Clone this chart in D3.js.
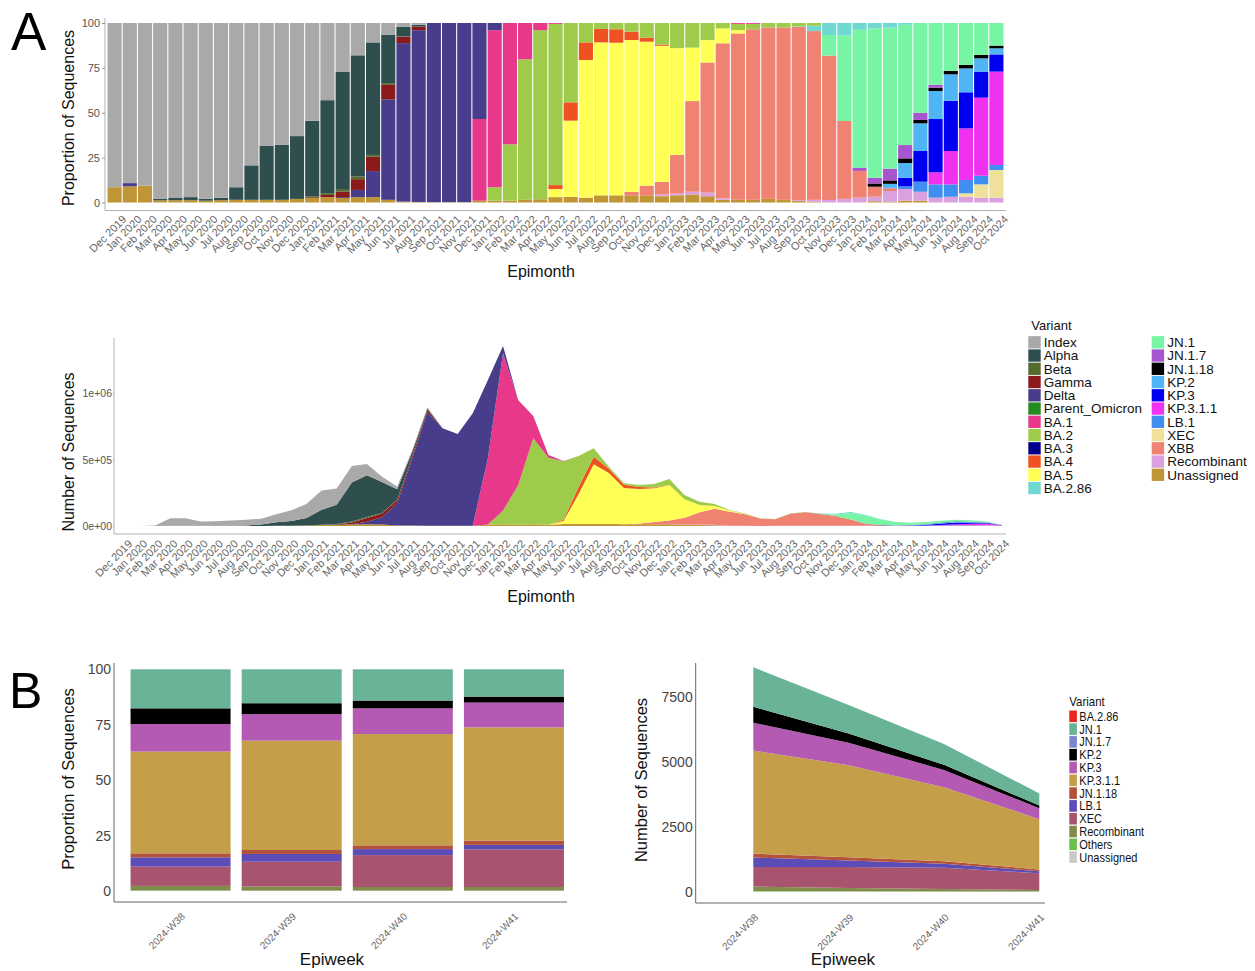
<!DOCTYPE html>
<html>
<head>
<meta charset="utf-8">
<script src="https://cdn.jsdelivr.net/npm/d3@7"></script>
<style>
  body { margin: 0; background: #fff; }
  svg text { font-family: "Liberation Sans", Arial, Helvetica, sans-serif; }
</style>
</head>
<body>
<svg id="fig" width="1255" height="971"></svg>
<script>
"use strict";

// ---------- panel A data ----------
const months = [
  "Dec 2019",
  "Jan 2020", "Feb 2020", "Mar 2020", "Apr 2020", "May 2020", "Jun 2020",
  "Jul 2020", "Aug 2020", "Sep 2020", "Oct 2020", "Nov 2020", "Dec 2020",
  "Jan 2021", "Feb 2021", "Mar 2021", "Apr 2021", "May 2021", "Jun 2021",
  "Jul 2021", "Aug 2021", "Sep 2021", "Oct 2021", "Nov 2021", "Dec 2021",
  "Jan 2022", "Feb 2022", "Mar 2022", "Apr 2022", "May 2022", "Jun 2022",
  "Jul 2022", "Aug 2022", "Sep 2022", "Oct 2022", "Nov 2022", "Dec 2022",
  "Jan 2023", "Feb 2023", "Mar 2023", "Apr 2023", "May 2023", "Jun 2023",
  "Jul 2023", "Aug 2023", "Sep 2023", "Oct 2023", "Nov 2023", "Dec 2023",
  "Jan 2024", "Feb 2024", "Mar 2024", "Apr 2024", "May 2024", "Jun 2024",
  "Jul 2024", "Aug 2024", "Sep 2024", "Oct 2024"
];

const variants = [
  "Index", "Alpha", "Beta", "Gamma", "Delta", "Parent_Omicron", "BA.1", "BA.2",
  "BA.3", "BA.4", "BA.5", "BA.2.86", "JN.1", "JN.1.7", "JN.1.18", "KP.2", "KP.3",
  "KP.3.1.1", "LB.1", "XEC", "XBB", "Recombinant", "Unassigned"
];
const variantColors = [
  "#a9a9a9", "#2f4f4f", "#556b2f", "#8b1a1a", "#483d8b", "#228b22", "#e8388a", "#9fcb4a",
  "#00008b", "#ef5222", "#ffff55", "#6fd8d0", "#78f5a4", "#a855d0", "#000000", "#4fb5f5", "#0000f0",
  "#f032f0", "#3f8ef0", "#efe19a", "#f08272", "#daa0e0", "#c09535"
];

// proportion of sequences (%) per month, rows of 10 months
const pIndex = [
  91.5, 89.2, 90.6, 98, 97.5, 97, 98, 97.4, 91.5, 79.3,
  68.3, 67.8, 63, 54.5, 43, 27.3, 18, 10.8, 6.5, 2,
  1, 0, 0, 0, 0, 0, 0, 0, 0, 0,
  0, 0, 0, 0, 0, 0, 0, 0, 0, 0,
  0, 0, 0, 0, 0, 0, 0, 0, 0, 0,
  0, 0, 0, 0, 0, 0, 0, 0, 0
];
const pAlpha = [
  0, 0, 0, 0.8, 1.2, 1.7, 1, 1.3, 7, 19.2,
  30.2, 30.7, 35, 42, 51.8, 65.2, 67.5, 62.7, 27, 5.5,
  1, 0, 0, 0, 0, 0, 0, 0, 0, 0,
  0, 0, 0, 0, 0, 0, 0, 0, 0, 0,
  0, 0, 0, 0, 0, 0, 0, 0, 0, 0,
  0, 0, 0, 0, 0, 0, 0, 0, 0
];
const pBeta = [
  0, 0, 0, 0, 0, 0, 0, 0, 0, 0,
  0, 0, 0, 0.6, 1, 1.5, 1.5, 1, 1, 0.2,
  0, 0, 0, 0, 0, 0, 0, 0, 0, 0,
  0, 0, 0, 0, 0, 0, 0, 0, 0, 0,
  0, 0, 0, 0, 0, 0, 0, 0, 0, 0,
  0, 0, 0, 0, 0, 0, 0, 0, 0
];
const pGamma = [
  0, 0, 0, 0, 0, 0, 0, 0, 0, 0,
  0, 0, 0, 0.4, 1.2, 3, 6, 8, 8, 3.5,
  2, 0, 0, 0, 0, 0, 0, 0, 0, 0,
  0, 0, 0, 0, 0, 0, 0, 0, 0, 0,
  0, 0, 0, 0, 0, 0, 0, 0, 0, 0,
  0, 0, 0, 0, 0, 0, 0, 0, 0
];
const pDelta = [
  0, 1.8, 0, 0, 0, 0, 0, 0, 0, 0,
  0, 0, 0, 0, 0, 0.5, 4, 14.5, 56, 88.3,
  95.7, 99.8, 99.8, 99.8, 53.5, 4, 0, 0, 0, 0,
  0, 0, 0, 0, 0, 0, 0, 0, 0, 0,
  0, 0, 0, 0, 0, 0, 0, 0, 0, 0,
  0, 0, 0, 0, 0, 0, 0, 0, 0
];
const pParentOmicron = [
  0, 0, 0, 0, 0, 0, 0, 0, 0, 0,
  0, 0, 0, 0, 0, 0, 0, 0, 0, 0,
  0, 0, 0, 0, 0, 0, 0, 0, 0, 0,
  0, 0, 0, 0, 0, 0, 0, 0, 0, 0,
  0, 0, 0, 0, 0, 0, 0, 0, 0, 0,
  0, 0, 0, 0, 0, 0, 0, 0, 0
];
const pBA1 = [
  0, 0, 0, 0, 0, 0, 0, 0, 0, 0,
  0, 0, 0, 0, 0, 0, 0, 0, 0, 0,
  0, 0, 0, 0, 45.5, 87.5, 67.6, 20.2, 4, 0.5,
  0, 0, 0, 0, 0, 0, 0, 0, 0, 0,
  0, 0.5, 0.5, 0, 0, 0, 0, 0, 0, 0,
  0, 0, 0, 0, 0, 0, 0, 0, 0
];
const pBA2 = [
  0, 0, 0, 0, 0, 0, 0, 0, 0, 0,
  0, 0, 0, 0, 0, 0, 0, 0, 0, 0,
  0, 0, 0, 0, 0, 7.5, 31.4, 78.3, 94.2, 89.8,
  44.2, 10.8, 3.3, 3.5, 4.8, 8.2, 12, 14, 13.7, 9.5,
  3, 3.5, 3, 2.5, 2.5, 1.9, 1.5, 0, 0, 0,
  0, 0, 0, 0, 0, 0, 0, 0, 0
];
const pBA3 = [
  0, 0, 0, 0, 0, 0, 0, 0, 0, 0,
  0, 0, 0, 0, 0, 0, 0, 0, 0, 0,
  0, 0, 0, 0, 0, 0, 0, 0, 0, 0,
  0, 0, 0, 0, 0, 0, 0, 0, 0, 0,
  0, 0, 0, 0, 0, 0, 0, 0, 0, 0,
  0, 0, 0, 0, 0, 0, 0, 0, 0
];
const pBA4 = [
  0, 0, 0, 0, 0, 0, 0, 0, 0, 0,
  0, 0, 0, 0, 0, 0, 0, 0, 0, 0,
  0, 0, 0, 0, 0, 0, 0, 0, 0, 2.2,
  10.2, 9.8, 7.5, 7.5, 4.7, 2.2, 0.7, 0, 0, 0,
  0, 0, 0, 0, 0, 0, 0, 0, 0, 0,
  0, 0, 0, 0, 0, 0, 0, 0, 0
];
const pBA5 = [
  0, 0, 0, 0, 0, 0, 0, 0, 0, 0,
  0, 0, 0, 0, 0, 0, 0, 0, 0, 0,
  0, 0, 0, 0, 0, 0, 0, 0, 0, 4.5,
  42.4, 76.7, 85.2, 85, 84.5, 80.2, 75.8, 59.5, 29.8, 12.5,
  8.3, 1.8, 0, 0, 0, 0, 0, 0, 0, 0,
  0, 0, 0, 0, 0, 0, 0, 0, 0
];
const pBA286 = [
  0, 0, 0, 0, 0, 0, 0, 0, 0, 0,
  0, 0, 0, 0, 0, 0, 0, 0, 0, 0,
  0, 0, 0, 0, 0, 0, 0, 0, 0, 0,
  0, 0, 0, 0, 0, 0, 0, 0, 0, 0,
  0, 0, 0, 0, 0, 0.3, 3, 6.7, 7, 3.8,
  3, 2.6, 1, 0, 0, 0, 0, 0, 0
];
const pJN1 = [
  0, 0, 0, 0, 0, 0, 0, 0, 0, 0,
  0, 0, 0, 0, 0, 0, 0, 0, 0, 0,
  0, 0, 0, 0, 0, 0, 0, 0, 0, 0,
  0, 0, 0, 0, 0, 0, 0, 0, 0, 0,
  0, 0, 0, 0, 0, 0, 0, 11.5, 47.6, 76.8,
  83.2, 78.6, 67, 50, 34.5, 26.7, 23.4, 17.8, 12.6
];
const pJN17 = [
  0, 0, 0, 0, 0, 0, 0, 0, 0, 0,
  0, 0, 0, 0, 0, 0, 0, 0, 0, 0,
  0, 0, 0, 0, 0, 0, 0, 0, 0, 0,
  0, 0, 0, 0, 0, 0, 0, 0, 0, 0,
  0, 0, 0, 0, 0, 0, 0, 0, 0, 1.8,
  3.2, 6.5, 7.4, 4, 1.5, 0, 0, 0, 0
];
const pJN118 = [
  0, 0, 0, 0, 0, 0, 0, 0, 0, 0,
  0, 0, 0, 0, 0, 0, 0, 0, 0, 0,
  0, 0, 0, 0, 0, 0, 0, 0, 0, 0,
  0, 0, 0, 0, 0, 0, 0, 0, 0, 0,
  0, 0, 0, 0, 0, 0, 0, 0, 0, 0,
  1.8, 1.9, 2.6, 1.9, 1.9, 1.9, 1.9, 1.9, 1.5
];
const pKP2 = [
  0, 0, 0, 0, 0, 0, 0, 0, 0, 0,
  0, 0, 0, 0, 0, 0, 0, 0, 0, 0,
  0, 0, 0, 0, 0, 0, 0, 0, 0, 0,
  0, 0, 0, 0, 0, 0, 0, 0, 0, 0,
  0, 0, 0, 0, 0, 0, 0, 0, 0, 0,
  0, 2, 8.2, 15.4, 15.6, 14.7, 13.3, 7.4, 3.4
];
const pKP3 = [
  0, 0, 0, 0, 0, 0, 0, 0, 0, 0,
  0, 0, 0, 0, 0, 0, 0, 0, 0, 0,
  0, 0, 0, 0, 0, 0, 0, 0, 0, 0,
  0, 0, 0, 0, 0, 0, 0, 0, 0, 0,
  0, 0, 0, 0, 0, 0, 0, 0, 0, 0,
  0, 0, 4.8, 17.1, 29.7, 28, 20.1, 14.5, 9.6
];
const pKP311 = [
  0, 0, 0, 0, 0, 0, 0, 0, 0, 0,
  0, 0, 0, 0, 0, 0, 0, 0, 0, 0,
  0, 0, 0, 0, 0, 0, 0, 0, 0, 0,
  0, 0, 0, 0, 0, 0, 0, 0, 0, 0,
  0, 0, 0, 0, 0, 0, 0, 0, 0, 0,
  0, 0, 0, 0, 6.7, 18.6, 28.8, 43.5, 52
];
const pLB1 = [
  0, 0, 0, 0, 0, 0, 0, 0, 0, 0,
  0, 0, 0, 0, 0, 0, 0, 0, 0, 0,
  0, 0, 0, 0, 0, 0, 0, 0, 0, 0,
  0, 0, 0, 0, 0, 0, 0, 0, 0, 0,
  0, 0, 0, 0, 0, 0, 0, 0, 0, 0,
  0, 0.5, 1.5, 5.6, 7.4, 6.9, 7.4, 4.8, 2.8
];
const pXEC = [
  0, 0, 0, 0, 0, 0, 0, 0, 0, 0,
  0, 0, 0, 0, 0, 0, 0, 0, 0, 0,
  0, 0, 0, 0, 0, 0, 0, 0, 0, 0,
  0, 0, 0, 0, 0, 0, 0, 0, 0, 0,
  0, 0, 0, 0, 0, 0, 0, 0, 0, 0,
  0, 0, 0, 0, 0, 0, 1.9, 7.4, 15.4
];
const pXBB = [
  0, 0, 0, 0, 0, 0, 0, 0, 0, 0,
  0, 0, 0, 0, 0, 0, 0, 0, 0, 0,
  0, 0, 0, 0, 0, 0, 0, 0, 0, 0,
  0, 0, 0, 0, 2, 5.4, 7, 21.5, 50.5, 72.5,
  86.4, 92.7, 95, 95.5, 96, 96.5, 94, 80.4, 43.4, 14.9,
  5.6, 1.5, 0, 0, 0, 0, 0, 0, 0
];
const pRecombinant = [
  0, 0, 0, 0, 0, 0, 0, 0, 0, 0,
  0, 0, 0, 0, 0, 0, 0, 0, 0, 0,
  0, 0, 0, 0, 0, 0, 0, 0, 0, 0,
  0, 0, 0, 0, 0, 0, 1, 1, 1.5, 2,
  0.8, 0, 0, 0, 0, 0.5, 1, 1.4, 2, 2.7,
  2.5, 6, 6.5, 5, 2.7, 3.2, 3.2, 2.7, 2.7
];
const pUnassigned = [
  8.5, 9, 9.4, 1.2, 1.3, 1.3, 1, 1.3, 1.5, 1.5,
  1.5, 1.5, 2, 2.5, 3, 2.5, 3, 3, 1.5, 0.5,
  0.3, 0.2, 0.2, 0.2, 1, 1, 1, 1.5, 1.8, 3,
  3.2, 2.7, 4, 4, 4, 4, 3.5, 4, 4.5, 3.5,
  1.5, 1.5, 1.5, 2, 1.5, 0.8, 0.5, 0, 0, 0,
  0.7, 0.4, 1, 1, 0, 0, 0, 0, 0
];

// total number of sequences per month
const monthTotals = [
  200, 600, 3000, 58000, 58000, 33000, 35000, 42000, 47000, 55000,
  88000, 118000, 165000, 268000, 282000, 452000, 467000, 372000, 297000, 573000,
  895000, 736000, 694000, 849000, 1100000, 1357000, 950000, 829000, 535000, 490000,
  528000, 585000, 447000, 322000, 309000, 317000, 354000, 234000, 183000, 166000,
  121000, 95000, 58000, 53000, 95000, 106000, 95000, 93000, 106000, 83000,
  50000, 30000, 25000, 30000, 40000, 48000, 43000, 33000, 8000
];

const propSeries = [
  pIndex, pAlpha, pBeta, pGamma, pDelta, pParentOmicron, pBA1, pBA2,
  pBA3, pBA4, pBA5, pBA286, pJN1, pJN17, pJN118, pKP2, pKP3,
  pKP311, pLB1, pXEC, pXBB, pRecombinant, pUnassigned
];
const countTicks = [0, 5e5, 1e6];
const countTickLabels = ["0e+00", "5e+05", "1e+06"];

// ---------- panel B data ----------
const weeks = ["2024-W38", "2024-W39", "2024-W40", "2024-W41"];
const weekTotals = [8630, 7180, 5680, 3780];
const variantsB = [
  "BA.2.86", "JN.1", "JN.1.7", "KP.2", "KP.3", "KP.3.1.1",
  "JN.1.18", "LB.1", "XEC", "Recombinant", "Others", "Unassigned"
];
const colorsB = [
  "#e8261e", "#69b496", "#7b86d0", "#000000", "#b45ab2", "#c49e48",
  "#b4533c", "#5c4cb8", "#a8546f", "#808d4a", "#6bbf4b", "#c9c9c9"
];
const bBA286 = [0, 0, 0, 0];
const bJN1 = [17.6, 15.3, 14.1, 12.3];
const bJN17 = [0, 0, 0, 0];
const bKP2 = [7.1, 4.9, 3.5, 2.7];
const bKP3 = [12.4, 12, 11.6, 11.2];
const bKP311 = [45.9, 49.3, 50.2, 51.1];
const bJN118 = [1.8, 1.8, 1.7, 1.9];
const bLB1 = [4.2, 3.5, 2.7, 2];
const bXEC = [8.7, 11.2, 14.4, 17];
const bRecombinant = [2, 1.8, 1.6, 1.6];
const bOthers = [0.2, 0.1, 0.1, 0.1];
const bUnassigned = [0.1, 0.1, 0.1, 0.1];
const propSeriesB = [bBA286, bJN1, bJN17, bKP2, bKP3, bKP311, bJN118, bLB1, bXEC, bRecombinant, bOthers, bUnassigned];

// ---------- helpers ----------
const FONT = "'Liberation Sans', Arial, Helvetica, sans-serif";
const svg = d3.select("#fig");

function styleAxis(g, size, color) {
  g.attr("font-family", FONT).attr("font-size", size);
  g.select(".domain").remove();
  g.selectAll(".tick line").attr("stroke", "#999");
  g.selectAll(".tick text").attr("fill", color);
}

// rotate tick labels 45 degrees, top-right corner of the text at the tick
function rotateLabels(g, dx, dy) {
  g.selectAll(".tick text")
    .attr("text-anchor", "end")
    .attr("x", 0).attr("y", 0)
    .attr("dy", "0.71em")
    .attr("transform", `translate(${dx},${dy}) rotate(-45)`);
}

function axisLines(x0, x1, y0, y1, color) {
  svg.append("line").attr("x1", x0).attr("x2", x0).attr("y1", y0).attr("y2", y1)
    .attr("stroke", color).attr("stroke-width", 1);
  svg.append("line").attr("x1", x0).attr("x2", x1).attr("y1", y1).attr("y2", y1)
    .attr("stroke", color).attr("stroke-width", 1);
}

function title(x, y, text, size, rotate) {
  const t = svg.append("text")
    .attr("font-family", FONT).attr("font-size", size).attr("fill", "#111")
    .attr("text-anchor", "middle").text(text);
  if (rotate) t.attr("transform", `translate(${x},${y}) rotate(-90)`);
  else t.attr("x", x).attr("y", y);
}

// ---------- rows ----------
const monthRows = months.map((m, i) => {
  const sum = d3.sum(propSeries, s => s[i]);
  const row = { month: m };
  variants.forEach((v, k) => { row[v] = propSeries[k][i] / sum * 100; });
  return row;
});
const countRows = monthRows.map((r, i) => {
  const row = { month: r.month };
  variants.forEach(v => { row[v] = r[v] / 100 * monthTotals[i]; });
  return row;
});
const colorA = d3.scaleOrdinal().domain(variants).range(variantColors);
const stackKeysA = variants.slice().reverse();

// ---------- A1: proportion bars ----------
const xA1 = d3.scaleBand().domain(months).range([107, 1004]).paddingInner(0.07).paddingOuter(0.035);
const yA1 = d3.scaleLinear().domain([0, 100]).range([202.5, 23]);
const stackA1 = d3.stack().keys(stackKeysA)(monthRows);

svg.append("g").selectAll("g").data(stackA1).join("g")
  .attr("fill", d => colorA(d.key))
  .selectAll("rect").data(d => d).join("rect")
  .attr("x", d => xA1(d.data.month))
  .attr("width", xA1.bandwidth())
  .attr("y", d => yA1(d[1]))
  .attr("height", d => Math.max(0, yA1(d[0]) - yA1(d[1])));

axisLines(105, 1006, 18, 210.5, "#b0b0b0");
const gA1y = svg.append("g").attr("transform", "translate(105,0)")
  .call(d3.axisLeft(yA1).tickValues([0, 25, 50, 75, 100]).tickSize(3).tickPadding(2));
styleAxis(gA1y, 11, "#555");
const gA1x = svg.append("g").attr("transform", "translate(0,210.5)")
  .call(d3.axisBottom(xA1).tickSize(0));
styleAxis(gA1x, 11, "#666");
rotateLabels(gA1x, 7, 4);
title(74, 118, "Proportion of Sequences", 16, true);
title(541, 277, "Epimonth", 16, false);

// ---------- A2: stacked counts ----------
const xA2 = d3.scalePoint().domain(months).range([125, 1002]);
const yA2 = d3.scaleLinear().domain([0, 1e6]).range([526, 393.3]);
const stackA2 = d3.stack().keys(stackKeysA)(countRows);
const areaA2 = d3.area()
  .x(d => xA2(d.data.month))
  .y0(d => yA2(d[0]))
  .y1(d => yA2(d[1]));

svg.append("g").selectAll("path").data(stackA2).join("path")
  .attr("fill", d => colorA(d.key))
  .attr("d", areaA2);

axisLines(114, 1006, 338, 534, "#b0b0b0");
// the left edge of the tick labels is cut off in the source image
svg.append("clipPath").attr("id", "clipA2").append("rect")
  .attr("x", -31.5).attr("y", 330).attr("width", 40).attr("height", 220);
const gA2y = svg.append("g").attr("transform", "translate(114,0)")
  .attr("clip-path", "url(#clipA2)")
  .call(d3.axisLeft(yA2).tickValues(countTicks)
    .tickFormat((d, i) => countTickLabels[i]).tickSize(1).tickPadding(1));
styleAxis(gA2y, 10.5, "#555");
const gA2x = svg.append("g").attr("transform", "translate(0,534)")
  .call(d3.axisBottom(xA2).tickSize(0));
styleAxis(gA2x, 11, "#666");
rotateLabels(gA2x, 2, 5);
title(74, 452, "Number of Sequences", 16, true);
title(541, 602, "Epimonth", 16, false);

// ---------- legends ----------
function legend(x0, y0, names, colors, opt) {
  const g = svg.append("g").attr("font-family", FONT);
  g.append("text")
    .attr("transform", `translate(${x0 + opt.titleDx},${y0}) scale(${opt.squeeze},1)`)
    .attr("font-size", opt.titleSize).attr("fill", "#111").text("Variant");
  names.forEach((n, i) => {
    const col = Math.floor(i / opt.perCol);
    const row = i % opt.perCol;
    const cy = y0 + opt.first + row * opt.step;
    const kx = x0 + col * opt.colStep;
    g.append("rect").attr("x", kx).attr("y", cy - opt.keyH / 2)
      .attr("width", opt.keyW).attr("height", opt.keyH).attr("fill", colors[i]);
    g.append("text")
      .attr("transform", `translate(${kx + opt.textDx},${cy}) scale(${opt.squeeze},1)`)
      .attr("dy", "0.36em")
      .attr("font-size", opt.size).attr("fill", "#111").text(n);
  });
}
legend(1028.3, 330, variants, variantColors,
  { perCol: 12, step: 13.25, first: 12.3, colStep: 123.4, keyW: 12.4, keyH: 12.3, textDx: 15.5,
    size: 13.5, titleSize: 13, titleDx: 3, squeeze: 1 });

// ---------- B rows ----------
const weekRows = weeks.map((w, i) => {
  const sum = d3.sum(propSeriesB, s => s[i]);
  const row = { week: w };
  variantsB.forEach((v, k) => { row[v] = propSeriesB[k][i] / sum * 100; });
  return row;
});
const weekCountRows = weekRows.map((r, i) => {
  const row = { week: r.week };
  variantsB.forEach(v => { row[v] = r[v] / 100 * weekTotals[i]; });
  return row;
});
const colorB = d3.scaleOrdinal().domain(variantsB).range(colorsB);
const stackKeysB = variantsB.slice().reverse();

// ---------- B1: proportion bars ----------
const xB1 = d3.scaleBand().domain(weeks).range([125, 569.5]).paddingInner(0.1).paddingOuter(0.05);
const yB1 = d3.scaleLinear().domain([0, 100]).range([891, 669.3]);
const stackB1 = d3.stack().keys(stackKeysB)(weekRows);
svg.append("g").selectAll("g").data(stackB1).join("g")
  .attr("fill", d => colorB(d.key))
  .selectAll("rect").data(d => d).join("rect")
  .attr("x", d => xB1(d.data.week))
  .attr("width", xB1.bandwidth())
  .attr("y", d => yB1(d[1]))
  .attr("height", d => Math.max(0, yB1(d[0]) - yB1(d[1])));

axisLines(114, 567, 663, 902, "#666");
const gB1y = svg.append("g").attr("transform", "translate(114,0)")
  .call(d3.axisLeft(yB1).tickValues([0, 25, 50, 75, 100]).tickSize(0).tickPadding(3));
styleAxis(gB1y, 14, "#444");
const gB1x = svg.append("g").attr("transform", "translate(0,902)")
  .call(d3.axisBottom(xB1).tickSize(0));
styleAxis(gB1x, 10, "#666");
rotateLabels(gB1x, 0, 10);
title(74, 779, "Proportion of Sequences", 16.5, true);
title(332, 965, "Epiweek", 17, false);

// ---------- B2: stacked counts ----------
const xB2 = d3.scalePoint().domain(weeks).range([753.3, 1039.3]);
const yB2 = d3.scaleLinear().domain([0, 7500]).range([891.7, 696.7]);
const stackB2 = d3.stack().keys(stackKeysB)(weekCountRows);
const areaB2 = d3.area()
  .x(d => xB2(d.data.week))
  .y0(d => yB2(d[0]))
  .y1(d => yB2(d[1]));
svg.append("g").selectAll("path").data(stackB2).join("path")
  .attr("fill", d => colorB(d.key))
  .attr("d", areaB2);

axisLines(695.7, 1045, 663, 903, "#666");
const gB2y = svg.append("g").attr("transform", "translate(695.7,0)")
  .call(d3.axisLeft(yB2).tickValues([0, 2500, 5000, 7500]).tickFormat(d3.format("d"))
    .tickSize(0).tickPadding(3));
styleAxis(gB2y, 14, "#444");
const gB2x = svg.append("g").attr("transform", "translate(0,903)")
  .call(d3.axisBottom(xB2).tickSize(0));
styleAxis(gB2x, 10, "#666");
rotateLabels(gB2x, 0, 10);
title(647, 780, "Number of Sequences", 16.5, true);
title(843, 965, "Epiweek", 17, false);

legend(1069.3, 705.5, variantsB, colorsB,
  { perCol: 12, step: 12.8, first: 10.8, colStep: 0, keyW: 7.6, keyH: 11.6, textDx: 10,
    size: 12.5, titleSize: 13, titleDx: 0, squeeze: 0.88 });

// ---------- panel letters ----------
svg.append("text").attr("x", 11).attr("y", 50).attr("font-family", FONT)
  .attr("font-size", 53).attr("fill", "#000").text("A");
svg.append("text").attr("x", 9).attr("y", 708).attr("font-family", FONT)
  .attr("font-size", 50).attr("fill", "#000").text("B");
</script>
</body>
</html>
